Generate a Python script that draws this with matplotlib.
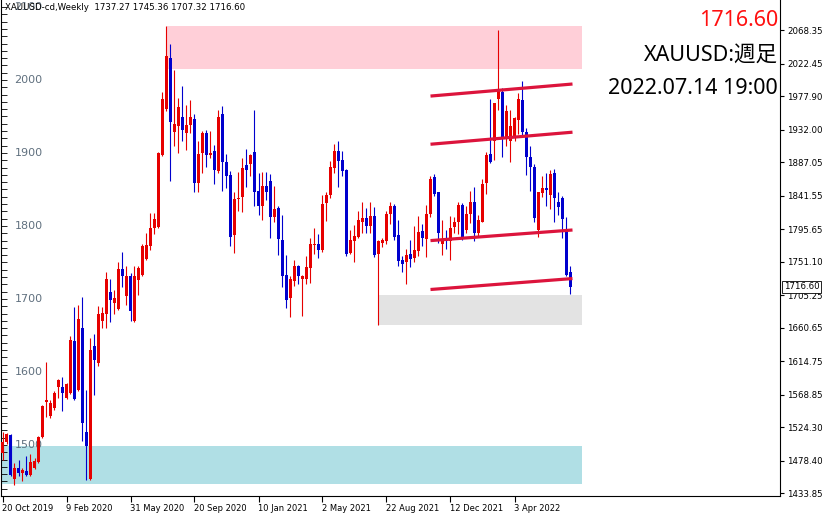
import matplotlib.pyplot as plt
import matplotlib.transforms as mtransforms
from matplotlib.ticker import MultipleLocator
import numpy as np

# weekly candles, 20 Oct 2019 .. 10 Jul 2022
opens = [1489, 1504, 1514, 1453, 1469, 1462, 1465, 1459, 1468, 1476,
         1511, 1559, 1540, 1550, 1580, 1580, 1565, 1571, 1642, 1576,
         1660, 1518, 1453, 1636, 1612, 1670, 1680, 1710, 1695, 1686,
         1741, 1704, 1731, 1670, 1726, 1733, 1755, 1772, 1797, 1799,
         1897, 1960, 2030, 1929, 1937, 1949, 1928, 1938, 1947, 1859,
         1900, 1927, 1897, 1903, 1876, 1953, 1887, 1870, 1787, 1837,
         1840, 1884, 1885, 1901, 1848, 1827, 1855, 1861, 1813, 1824,
         1781, 1733, 1701, 1725, 1745, 1727, 1727, 1743, 1774, 1775,
         1767, 1832, 1842, 1880, 1903, 1890, 1877, 1763, 1780, 1785,
         1806, 1811, 1800, 1814, 1762, 1777, 1779, 1816, 1827, 1788,
         1753, 1750, 1762, 1756, 1766, 1793, 1782, 1817, 1867, 1846,
         1775, 1784, 1780, 1799, 1806, 1829, 1794, 1817, 1833, 1790,
         1806, 1859, 1899, 1917, 1974, 1983, 1922, 1917, 1922, 1945,
         1972, 1929, 1895, 1881, 1795, 1845, 1852, 1842, 1872, 1833,
         1838, 1792, 1737.27]
highs = [1518, 1517, 1515, 1475, 1479, 1468, 1485, 1488, 1482, 1512,
         1555, 1613, 1562, 1574, 1591, 1593, 1585, 1649, 1689, 1692,
         1703, 1575, 1646, 1652, 1690, 1689, 1737, 1727, 1712, 1751,
         1765, 1745, 1736, 1745, 1745, 1776, 1790, 1818, 1818, 1902,
         1983, 2074, 2049, 2014, 1975, 1992, 1966, 1973, 1954, 1917,
         1930, 1932, 1930, 1911, 1959, 1964, 1899, 1876, 1847, 1874,
         1893, 1905, 1898, 1959, 1872, 1874, 1874, 1871, 1855, 1827,
         1815, 1760, 1731, 1754, 1747, 1733, 1759, 1784, 1797, 1789,
         1842, 1846, 1889, 1912, 1916, 1903, 1878, 1794, 1801, 1820,
         1833, 1824, 1833, 1826, 1781, 1783, 1820, 1833, 1830, 1808,
         1759, 1769, 1781, 1800, 1814, 1803, 1829, 1868, 1871, 1847,
         1808, 1794, 1814, 1813, 1833, 1832, 1827, 1848, 1854, 1815,
         1864, 1902, 1974, 1969, 2069, 1989, 1966, 1959, 1949, 1982,
         1998, 1934, 1910, 1885, 1847, 1869, 1873, 1877, 1878, 1847,
         1841, 1813, 1745.36]
lows = [1479, 1502, 1457, 1445, 1457, 1450, 1457, 1458, 1467, 1475,
        1510, 1539, 1537, 1548, 1564, 1547, 1563, 1570, 1562, 1574,
        1505, 1452, 1452, 1568, 1608, 1660, 1660, 1669, 1680, 1685,
        1717, 1692, 1670, 1669, 1705, 1732, 1754, 1767, 1789, 1797,
        1896, 1958, 1862, 1910, 1900, 1916, 1904, 1927, 1847, 1847,
        1872, 1881, 1893, 1858, 1872, 1848, 1852, 1773, 1763, 1821,
        1819, 1854, 1868, 1827, 1815, 1808, 1835, 1783, 1806, 1760,
        1717, 1687, 1676, 1718, 1721, 1677, 1721, 1722, 1762, 1756,
        1765, 1807, 1838, 1872, 1854, 1869, 1759, 1761, 1750, 1784,
        1791, 1791, 1791, 1758, 1664, 1771, 1775, 1803, 1781, 1745,
        1737, 1721, 1744, 1750, 1759, 1773, 1758, 1812, 1841, 1777,
        1760, 1769, 1753, 1790, 1789, 1781, 1790, 1804, 1779, 1786,
        1805, 1844, 1886, 1890, 1959, 1894, 1909, 1888, 1916, 1926,
        1925, 1870, 1848, 1805, 1785, 1840, 1827, 1823, 1805, 1815,
        1784, 1732, 1707.32]
closes = [1504, 1515, 1459, 1469, 1462, 1466, 1459, 1477, 1478, 1511,
          1553, 1562, 1558, 1571, 1589, 1571, 1584, 1644, 1563, 1673,
          1530, 1498, 1630, 1616, 1680, 1681, 1727, 1699, 1701, 1741,
          1731, 1731, 1684, 1731, 1742, 1772, 1774, 1797, 1809, 1900,
          1974, 2033, 1943, 1940, 1963, 1931, 1938, 1949, 1859, 1899,
          1928, 1897, 1900, 1877, 1949, 1887, 1869, 1785, 1837, 1839,
          1880, 1877, 1897, 1847, 1827, 1855, 1846, 1813, 1823, 1782,
          1732, 1698, 1727, 1745, 1731, 1731, 1744, 1775, 1776, 1767,
          1830, 1842, 1881, 1903, 1889, 1876, 1762, 1781, 1786, 1808,
          1811, 1800, 1814, 1760, 1779, 1781, 1816, 1827, 1785, 1752,
          1748, 1760, 1755, 1767, 1792, 1783, 1816, 1865, 1844, 1791,
          1782, 1780, 1797, 1805, 1829, 1783, 1817, 1833, 1791, 1808,
          1858, 1897, 1887, 1968, 1987, 1920, 1958, 1937, 1948, 1974,
          1929, 1895, 1881, 1811, 1846, 1852, 1849, 1871, 1838, 1826,
          1809, 1733, 1716.60]

date_labels = ['20 Oct 2019', '9 Feb 2020', '31 May 2020', '20 Sep 2020',
               '10 Jan 2021', '2 May 2021', '22 Aug 2021', '12 Dec 2021',
               '3 Apr 2022']
price_ticks = [2068.35, 2022.45, 1977.90, 1932.00, 1887.05, 1841.55, 1795.65,
               1751.10, 1705.25, 1660.65, 1614.75, 1568.85, 1524.30, 1478.40,
               1433.85]
grid_labels = [1500, 1600, 1700, 1800, 1900, 2000, 2100]

# channel lines: (start week, start price, end week, end price)
channel_lines = [(107, 1978, 142.5, 1994.5),
                 (107, 1912, 142.5, 1928.5),
                 (107, 1780, 142.5, 1794.5),
                 (107, 1713, 142.5, 1728)]
# zones: (x0, x1, low, high, colour)
zones = [(41.2, 145, 2015.5, 2074, '#ffcfd8'),
         (94.1, 145, 1664.5, 1705.5, '#e3e3e3'),
         (-1, 145, 1446.5, 1498.5, '#b0dfe5')]

last = 1716.60

o = np.array(opens, dtype=float)
h = np.array(highs, dtype=float)
l = np.array(lows, dtype=float)
c = np.array(closes, dtype=float)
x = np.arange(len(c))
up = c >= o
colors = np.where(up, '#e60000', '#0000cd')

fig = plt.figure(figsize=(8.26, 5.17), dpi=100)
ax = fig.add_axes([0.5 / 826, 21 / 517, 780 / 826, 496 / 517])

for x0, x1, lo, hi, col in zones:
    ax.fill_between([x0, x1], lo, hi, color=col, lw=0, zorder=1)

ax.vlines(x, l, h, colors=colors, lw=0.8, zorder=3)
body = np.maximum(np.abs(c - o), 1.2)
ax.bar(x, body, bottom=np.minimum(o, c), width=0.75, color=colors,
       lw=0, zorder=3)

for xa, ya, xb, yb in channel_lines:
    ax.plot([xa, xb], [ya, yb], color='#dc143c', lw=2.3,
            solid_capstyle='butt', zorder=4)

ax.set_xlim(-0.5, 194.5)
ax.set_ylim(1430.1, 2109.6)

ax.set_xticks(np.arange(0, 16 * len(date_labels), 16))
ax.set_xticklabels(date_labels, fontsize=6)
for lbl in ax.get_xticklabels():
    lbl.set_horizontalalignment('left')
ax.tick_params(axis='x', direction='out', length=4, pad=1.5)

ax.yaxis.tick_right()
ax.set_yticks(price_ticks)
ax.set_yticklabels([f'{p:.2f}' for p in price_ticks], fontsize=6.2)
ax.tick_params(axis='y', which='major', right=True, left=False,
               direction='out', length=3, pad=2)
ax.yaxis.set_minor_locator(MultipleLocator(10))
ax.tick_params(axis='y', which='minor', left=True, right=False,
               direction='in', length=4)
ax.spines['top'].set_visible(False)

trans = mtransforms.blended_transform_factory(ax.transAxes, ax.transData)
for g in grid_labels:
    ax.text(14 / 780, g, str(g), transform=trans, ha='left', va='center',
            fontsize=8, color='#60707f', zorder=2)

ax.text(1.004, last, f'{last:.2f}', transform=trans, ha='left', va='center',
        fontsize=6.2, bbox=dict(facecolor='white', edgecolor='black',
                                lw=0.6, pad=1.2), clip_on=False)

ax.text(5 / 780, 0.985, 'XAUUSD-cd,Weekly  1737.27 1745.36 1707.32 1716.60',
        transform=ax.transAxes, ha='left', va='center', fontsize=6.2,
        color='black', zorder=5,
        bbox=dict(facecolor='white', edgecolor='none', pad=0.5, alpha=0))

big = ['Noto Sans', 'Noto Sans CJK JP', 'DejaVu Sans']
ax.text(0.997, 1 - 21 / 496, '1716.60', transform=ax.transAxes, ha='right',
        va='center', fontsize=15.5, color='#ff1010', family=big)
ax.text(0.997, 1 - 55 / 496, 'XAUUSD:週足', transform=ax.transAxes,
        ha='right', va='center', fontsize=15.5, color='black', family=big)
ax.text(0.997, 1 - 89 / 496, '2022.07.14 19:00', transform=ax.transAxes,
        ha='right', va='center', fontsize=15.5, color='black', family=big)

fig.savefig('out.png', dpi=100)
